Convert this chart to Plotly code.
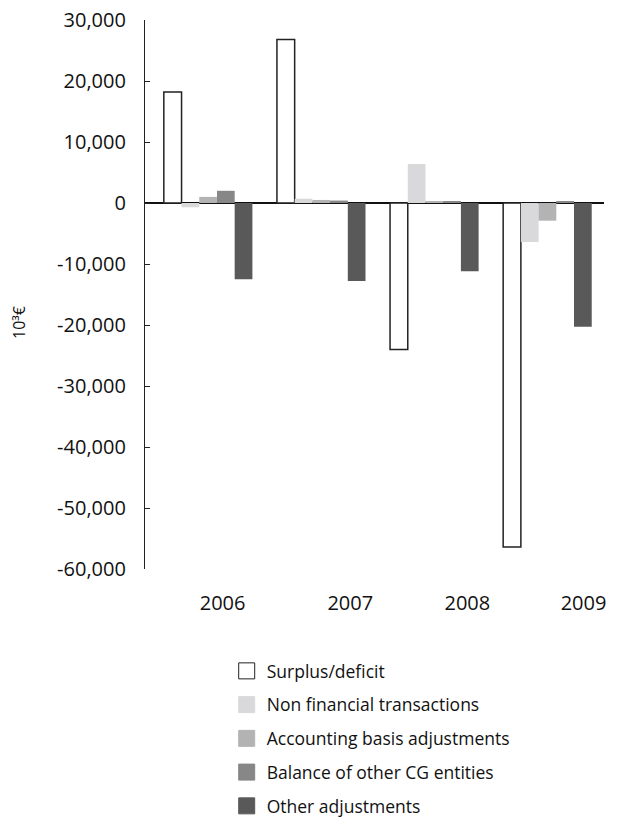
import plotly.graph_objects as go

# Years shown on the category axis
years = ["2006", "2007", "2008", "2009"]

# Components of the bridge from surplus/deficit (thousand euro)
surplus_deficit = [18200, 26800, -24000, -56400]
non_financial = [-700, 700, 6400, -6400]
accounting_basis = [1000, 500, 200, -2900]
other_cg_entities = [2000, 400, 300, 300]
other_adjustments = [-12500, -12800, -11200, -20300]

y_tick_values = [30000, 20000, 10000, 0, -10000, -20000, -30000, -40000, -50000, -60000]
y_tick_labels = ["30,000", "20,000", "10,000", "0", "-10,000", "-20,000",
                 "-30,000", "-40,000", "-50,000", "-60,000"]

FONT = "Open Sans"

series = [
    ("Surplus/deficit", surplus_deficit, "#ffffff", "#222222", 1.5),
    ("Non financial transactions", non_financial, "#d9d9db", "#d9d9db", 0),
    ("Accounting basis adjustments", accounting_basis, "#b3b3b3", "#b3b3b3", 0),
    ("Balance of other CG entities", other_cg_entities, "#878787", "#878787", 0),
    ("Other adjustments", other_adjustments, "#595959", "#595959", 0),
]

x_pos = list(range(len(years)))

fig = go.Figure()
for i, (name, vals, fill, line_col, line_w) in enumerate(series):
    fig.add_trace(go.Bar(
        x=x_pos, y=vals, name=name,
        marker=dict(color=fill, line=dict(color=line_col, width=line_w)),
        showlegend=False,
    ))
    # legend swatch, larger than the default bar swatch
    fig.add_trace(go.Scatter(
        x=[None], y=[None], mode="markers", name=name,
        legendgroup=f"g{i}",
        marker=dict(symbol="square", size=16, color=fill,
                    line=dict(color=("#222222" if line_w else fill), width=1)),
    ))

fig.update_layout(
    width=618, height=817,
    margin=dict(l=145, r=14, t=20, b=248, autoexpand=False),
    paper_bgcolor="white", plot_bgcolor="white",
    barmode="group", bargap=0.217, bargroupgap=0,
    font=dict(family=FONT, size=18, color="#111111"),
    showlegend=True,
    legend=dict(
        x=0.178, y=-0.153, xanchor="left", yanchor="top",
        traceorder="grouped", tracegroupgap=8,
        font=dict(family=FONT, size=17.5, color="#111111"),
        itemsizing="trace", bgcolor="rgba(0,0,0,0)",
    ),
    xaxis=dict(
        range=[-0.558, 3.5], automargin=False,
        tickmode="array",
        tickvals=[0.128, 1.257, 2.292, 3.319],
        ticktext=years,
        showline=False, showgrid=False, zeroline=False, ticks="",
        ticklabelstandoff=20,
        tickfont=dict(family=FONT, size=20, color="#111111"),
    ),
    yaxis=dict(
        range=[-60000, 30000], automargin=False,
        tickmode="array", tickvals=y_tick_values, ticktext=y_tick_labels,
        showline=True, linecolor="#222222", linewidth=1.2,
        ticks="inside", ticklen=5, tickcolor="#222222", tickwidth=1.2,
        showgrid=False,
        zeroline=True, zerolinecolor="#111111", zerolinewidth=1.6,
        ticklabelstandoff=14,
        tickfont=dict(family=FONT, size=20, color="#111111"),
    ),
    annotations=[dict(
        text="10³€", textangle=-90, showarrow=False,
        xref="paper", yref="paper",
        x=(19 - 145) / 459, y=(569 - 322) / 549,
        xanchor="center", yanchor="middle",
        font=dict(family=FONT, size=16, color="#111111"),
    )],
)

fig.write_html("out.html")
